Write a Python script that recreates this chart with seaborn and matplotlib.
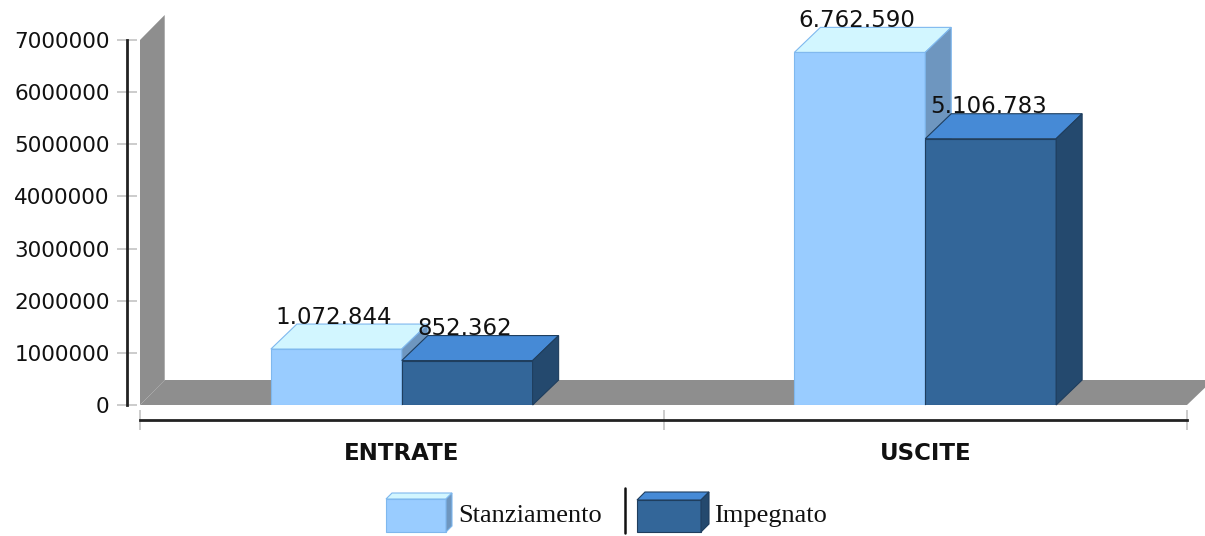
import numpy as np
import pandas as pd
import matplotlib
matplotlib.use("Agg")
import matplotlib.pyplot as plt
from matplotlib.patches import Polygon
from matplotlib.lines import Line2D
import seaborn as sns

# ===================== Data =====================
categorie = ["ENTRATE", "USCITE"]
serie = ["Stanziamento", "Impegnato"]
stanziamento = [1072844, 6762590]
impegnato = [852362, 5106783]
y_ticks = [0, 1000000, 2000000, 3000000, 4000000, 5000000, 6000000, 7000000]

df = pd.DataFrame({
    "Categoria": categorie * 2,
    "Serie": [serie[0]] * 2 + [serie[1]] * 2,
    "Valore": stanziamento + impegnato,
})

# colours: front, top, side, edge
colori = {
    "Stanziamento": ("#99ccff", "#d2f6ff", "#6e96bf", "#7fb8ee"),
    "Impegnato": ("#336699", "#468ad6", "#24496e", "#1f3e5e"),
}

# ===================== Figure =====================
W, H = 1205, 536
sns.set_style("white")
plt.rcParams["font.family"] = ["DejaVu Sans"]
fig = plt.figure(figsize=(W / 100, H / 100), dpi=100)
ax = fig.add_axes([140 / W, 1 - 405 / H, 1047 / W, 365 / H])

sns.barplot(data=df, x="Categoria", y="Valore", hue="Serie", order=categorie,
            hue_order=serie, palette=[colori[s][0] for s in serie], width=0.5,
            saturation=1, legend=False, ax=ax)
ax.set_xlim(-0.5, 1.5)
ax.set_ylim(0, 7000000)

# depth of the 3D effect, pixels -> data units
dpx, dpy = 26, 25
dx = dpx * 2.0 / 1047
dy = dpy * 7000000 / 365

# back wall and floor
grigio = "#8e8e8e"
ax.add_patch(Polygon([(-0.5, 0), (-0.5, 7000000), (-0.5 + dx * 0.95, 7000000 + dy),
                      (-0.5 + dx * 0.95, dy)], closed=True, fc=grigio, ec="none",
                     zorder=1, clip_on=False))
ax.add_patch(Polygon([(-0.5, 0), (-0.5 + dx * 0.95, dy), (1.5 + dx, dy), (1.5, 0)],
                     closed=True, fc=grigio, ec="none", zorder=1, clip_on=False))

# 3D faces for each bar
for k, (s, cont) in enumerate(zip(serie, ax.containers)):
    front, top, side, edge = colori[s]
    for bar in cont:
        x0 = bar.get_x()
        w = bar.get_width()
        h = bar.get_height()
        z = 3 + k
        bar.set_zorder(z)
        bar.set_edgecolor(edge)
        bar.set_linewidth(0.8)
        ax.add_patch(Polygon([(x0, h), (x0 + dx, h + dy), (x0 + w + dx, h + dy), (x0 + w, h)],
                             closed=True, fc=top, ec=edge, lw=0.8, zorder=z, clip_on=False))
        ax.add_patch(Polygon([(x0 + w, 0), (x0 + w, h), (x0 + w + dx, h + dy), (x0 + w + dx, dy)],
                             closed=True, fc=side, ec=edge, lw=0.8, zorder=z, clip_on=False))
        lab = f"{int(h):,}".replace(",", ".")
        ax.text(x0 + w / 2 - 0.005, h + dy * 0.82, lab, ha="center", va="bottom",
                fontsize=16.5, color="#111111", zorder=10, clip_on=False)

# ===================== Axes styling =====================
for sp in ["top", "right"]:
    ax.spines[sp].set_visible(False)
ax.spines["left"].set_position(("outward", 9.4))
ax.spines["bottom"].set_position(("outward", 10.8))
ax.spines["left"].set_bounds(0, 7000000)
ax.spines["bottom"].set_bounds(-0.5, 1.5)
for sp in ["left", "bottom"]:
    ax.spines[sp].set_color("#222222")
    ax.spines[sp].set_linewidth(2)

ax.set_yticks(y_ticks)
ax.set_yticklabels([str(v) for v in y_ticks])
ax.tick_params(axis="y", left=True, direction="inout", length=15, width=1.2,
               color="#c4c4c4", pad=5, labelsize=15.5, labelcolor="#111111")
ax.set_xticks([-0.5, 0.5, 1.5], minor=True)
ax.tick_params(axis="x", which="minor", bottom=True, direction="inout", length=15,
               width=1.2, color="#c4c4c4")
ax.tick_params(axis="x", which="major", bottom=True, length=0, pad=16, labelsize=16.5,
               labelcolor="#111111")
for t in ax.get_xticklabels():
    t.set_fontweight("bold")
ax.set_xlabel("")
ax.set_ylabel("")

# ===================== Legend (3D boxes) =====================
def box_legenda(x0, y0, w, h, d, s):
    front, top, side, edge = colori[s]
    to_fig = lambda pts: [(px / W, 1 - py / H) for px, py in pts]
    fig.patches.append(Polygon(to_fig([(x0, y0), (x0 + w, y0), (x0 + w, y0 + h), (x0, y0 + h)]),
                               closed=True, fc=front, ec=edge, lw=0.8, transform=fig.transFigure))
    fig.patches.append(Polygon(to_fig([(x0, y0), (x0 + d, y0 - d), (x0 + w + d, y0 - d), (x0 + w, y0)]),
                               closed=True, fc=top, ec=edge, lw=0.8, transform=fig.transFigure))
    fig.patches.append(Polygon(to_fig([(x0 + w, y0), (x0 + w + d, y0 - d), (x0 + w + d, y0 + h - d), (x0 + w, y0 + h)]),
                               closed=True, fc=side, ec=edge, lw=0.8, transform=fig.transFigure))

box_legenda(386, 499, 60, 33, 6, "Stanziamento")
fig.text(458 / W, 1 - 516 / H, "Stanziamento", fontsize=19, va="center", ha="left",
         family=["Liberation Serif", "DejaVu Serif"], color="#111111")
fig.lines.append(Line2D([625 / W, 625 / W], [1 - 488 / H, 1 - 533 / H], color="#111111",
                        lw=1.8, transform=fig.transFigure))
box_legenda(637, 500, 64, 32, 8, "Impegnato")
fig.text(714 / W, 1 - 516 / H, "Impegnato", fontsize=19, va="center", ha="left",
         family=["Liberation Serif", "DejaVu Serif"], color="#111111")

fig.savefig("out.png", dpi=100)
